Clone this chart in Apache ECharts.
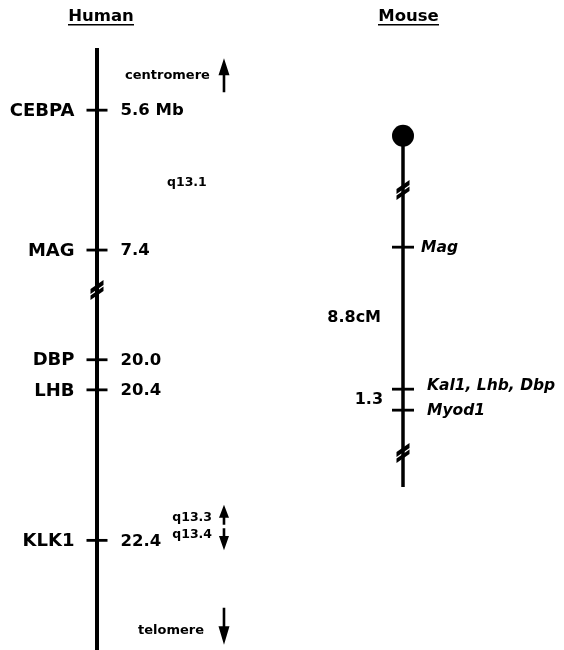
<!DOCTYPE html>
<html><head><meta charset="utf-8">
<script src="https://cdn.jsdelivr.net/npm/echarts@6/dist/echarts.min.js"></script>
<style>html,body{margin:0;padding:0;background:#fff}#c{width:564px;height:650px}</style>
</head><body><div id="c"></div>
<script>
// ---- data ----
const humanGenes = ['CEBPA', 'MAG', 'DBP', 'LHB', 'KLK1'];
const humanMb = [5.6, 7.4, 20.0, 20.4, 22.4];
const humanMbLabels = ['5.6 Mb', '7.4', '20.0', '20.4', '22.4'];
const humanExtent = [4.8, 23.857];        // drawn span of the human line (Mb)
const humanBreak = [7.914, 19.073];       // omitted stretch (Mb)
const humanBands = ['q13.1', 'q13.3', 'q13.4'];
const humanBandMb = [6.54, 22.10, 22.32];
const humanEnds = ['centromere', 'telomere'];
const humanEndMb = [5.15, 23.6];

const mouseGenes = ['Mag', 'Kal1, Lhb, Dbp', 'Myod1'];
const mouseCM = [0, 8.8, 10.1];
const mouseIntervalLabels = ['8.8cM', '1.3'];
const mouseCentromereCM = -6.9;
const mouseBreakCM = [-3.54, 12.75];
const mouseEndCM = 14.86;

// ---- styling ----
const FONT = 'DejaVu Sans';
const INK = '#000000';
const BREAK_PATH = 'path://M0 9L12 0L12 5L0 14Z M0 15.5L12 6.5L12 11L0 20Z';
const ARROW_UP = 'path://M5.5 0L11 17L6.8 17L6.8 34L4.2 34L4.2 17L0 17Z';
const ARROW_UP_SHORT = 'path://M5 0L10 13L6.3 13L6.3 20L3.7 20L3.7 13L0 13Z';
const solid = {color: INK, opacity: 1};
const txt = (size, extra) => Object.assign({show: true, fontFamily: FONT, fontWeight: 'bold', fontSize: size, color: INK, opacity: 1}, extra || {});

const chart = echarts.init(document.getElementById('c'), null, {renderer: 'canvas', width: 564, height: 650});

const hGridOf = v => (v <= humanBreak[0] ? 0 : 1);
const humanItems = humanGenes.map((n, i) => ({g: hGridOf(humanMb[i]), name: n, val: humanMbLabels[i], y: humanMb[i]}));

const series = [];
[0, 1].forEach(g => {
  const lo = g === 0 ? humanExtent[0] : humanBreak[1];
  const hi = g === 0 ? humanBreak[0] : humanExtent[1];
  series.push({type: 'line', xAxisIndex: g, yAxisIndex: g, data: [[0, lo], [0, hi]], symbol: 'none',
    lineStyle: {color: INK, width: 4, opacity: 1}, silent: true, z: 2});
  const items = humanItems.filter(d => d.g === g);
  series.push({type: 'scatter', xAxisIndex: g, yAxisIndex: g, symbol: 'rect', symbolSize: [21, 2.8],
    itemStyle: solid, z: 3, silent: true, clip: false,
    data: items.map(d => ({name: d.name, value: [0, d.y]})),
    label: txt(18, {position: 'left', distance: 12, offset: [0, 1], formatter: '{b}'})});
  series.push({type: 'scatter', xAxisIndex: g, yAxisIndex: g, symbol: 'rect', symbolSize: [21, 2.8],
    itemStyle: {color: 'rgba(0,0,0,0)', opacity: 1}, z: 3, silent: true, clip: false,
    data: items.map(d => ({name: d.val, value: [0, d.y]})),
    label: txt(16.5, {position: 'right', distance: 13, offset: [0, 1], formatter: '{b}'})});
});

// break on the human line
series.push({type: 'scatter', xAxisIndex: 0, yAxisIndex: 0, symbol: BREAK_PATH, symbolSize: [13, 20],
  itemStyle: solid, z: 4, silent: true, clip: false, data: [[0, humanBreak[0]]]});

// human annotations
const bandX = [0.778, 1.278, 1.278];
const bandAlign = ['left', 'right', 'right'];
const annot = [];
humanBands.forEach((b, i) => annot.push({g: hGridOf(humanBandMb[i]), name: b, value: [bandX[i], humanBandMb[i]], align: bandAlign[i], size: 12.5}));
const endX = [0.311, 0.456];
humanEnds.forEach((b, i) => annot.push({g: hGridOf(humanEndMb[i]), name: b, value: [endX[i], humanEndMb[i]], align: 'left', size: 13}));
[0, 1].forEach(g => {
  series.push({type: 'scatter', xAxisIndex: g, yAxisIndex: g, symbolSize: 0, silent: true, clip: false, z: 5,
    itemStyle: solid,
    data: annot.filter(a => a.g === g).map(a => ({name: a.name, value: a.value,
      label: txt(a.size, {position: 'inside', align: a.align, verticalAlign: 'middle', formatter: '{b}'})}))});
});
// arrows
const arrowX = 1.411;
series.push({type: 'scatter', xAxisIndex: 0, yAxisIndex: 0, symbol: ARROW_UP, symbolSize: [11, 34],
  itemStyle: solid, silent: true, clip: false, data: [[arrowX, humanEndMb[0]]]});
series.push({type: 'scatter', xAxisIndex: 1, yAxisIndex: 1, symbol: ARROW_UP, symbolSize: [11, 37], symbolRotate: 180,
  symbolOffset: [0, -4.5], itemStyle: solid, silent: true, clip: false, data: [[arrowX, humanEndMb[1]]]});
series.push({type: 'scatter', xAxisIndex: 1, yAxisIndex: 1, symbol: ARROW_UP_SHORT, symbolSize: [10, 20],
  symbolOffset: [0, -3], itemStyle: solid, silent: true, clip: false, data: [[arrowX, humanBandMb[1]]]});
series.push({type: 'scatter', xAxisIndex: 1, yAxisIndex: 1, symbol: ARROW_UP_SHORT, symbolSize: [10, 22], symbolRotate: 180,
  symbolOffset: [0, 5], itemStyle: solid, silent: true, clip: false, data: [[arrowX, humanBandMb[2]]]});

// ---- mouse ----
series.push({type: 'line', xAxisIndex: 2, yAxisIndex: 2, data: [[0, mouseCentromereCM], [0, mouseEndCM]], symbol: 'none',
  lineStyle: {color: INK, width: 3.5, opacity: 1}, silent: true, z: 2});
series.push({type: 'scatter', xAxisIndex: 2, yAxisIndex: 2, symbol: 'circle', symbolSize: 22, itemStyle: solid,
  silent: true, clip: false, z: 4, data: [[0, mouseCentromereCM]]});
series.push({type: 'scatter', xAxisIndex: 2, yAxisIndex: 2, symbol: BREAK_PATH, symbolSize: [13, 20], itemStyle: solid,
  silent: true, clip: false, z: 4, data: mouseBreakCM.map(v => [0, v])});
const mouseLabelDist = [7, 13, 13];
const mouseLabelOff = [[0, 1], [0, -3], [0, 1]];
series.push({type: 'scatter', xAxisIndex: 2, yAxisIndex: 2, symbol: 'rect', symbolSize: [22, 2.8], itemStyle: solid,
  silent: true, clip: false, z: 3,
  data: mouseGenes.map((n, i) => ({name: n, value: [0, mouseCM[i]],
    label: txt(15.5, {position: 'right', distance: mouseLabelDist[i], offset: mouseLabelOff[i], fontStyle: 'italic', formatter: '{b}'})}))});
const intervalX = [-0.244, -0.222];
series.push({type: 'scatter', xAxisIndex: 2, yAxisIndex: 2, symbolSize: 0, silent: true, clip: false, z: 5,
  itemStyle: solid,
  data: mouseIntervalLabels.map((n, i) => ({name: n, value: [intervalX[i], (mouseCM[i] + mouseCM[i + 1]) / 2],
    label: txt(16, {position: 'inside', align: 'right', verticalAlign: 'middle', formatter: '{b}'})}))});

const hidden = {show: false};
chart.setOption({
  backgroundColor: '#fff',
  animation: false,
  grid: [
    {left: 7, width: 270, top: 48, height: 242},
    {left: 7, width: 270, top: 290, height: 360},
    {left: 313, width: 225, top: 110, height: 411.5}
  ],
  xAxis: [
    Object.assign({type: 'value', gridIndex: 0, min: -1, max: 2}, hidden),
    Object.assign({type: 'value', gridIndex: 1, min: -1, max: 2}, hidden),
    Object.assign({type: 'value', gridIndex: 2, min: -1, max: 1.5}, hidden)
  ],
  yAxis: [
    Object.assign({type: 'value', gridIndex: 0, min: humanExtent[0], max: humanBreak[0], inverse: true}, hidden),
    Object.assign({type: 'value', gridIndex: 1, min: humanBreak[1], max: humanExtent[1], inverse: true}, hidden),
    Object.assign({type: 'value', gridIndex: 2, min: -8.5, max: 17, inverse: true}, hidden)
  ],
  graphic: [
    {type: 'text', x: 101, y: 16.5, style: {text: 'Human', font: 'bold 16.5px "DejaVu Sans"', fill: INK, align: 'center', verticalAlign: 'middle', textAlign: 'center', textVerticalAlign: 'middle'}},
    {type: 'rect', shape: {x: 68, y: 24, width: 66, height: 1.6}, style: {fill: INK}},
    {type: 'text', x: 408.5, y: 16.5, style: {text: 'Mouse', font: 'bold 16.5px "DejaVu Sans"', fill: INK, align: 'center', verticalAlign: 'middle', textAlign: 'center', textVerticalAlign: 'middle'}},
    {type: 'rect', shape: {x: 378, y: 24, width: 61, height: 1.6}, style: {fill: INK}}
  ],
  series: series
});
</script></body></html>
